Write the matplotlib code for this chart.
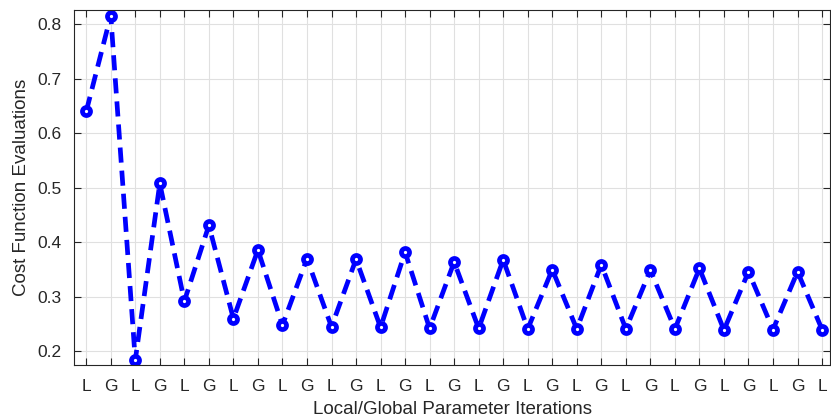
import matplotlib
matplotlib.use("Agg")
import matplotlib.pyplot as plt
import numpy as np

# cost function value per iteration, alternating Local / Global steps
cost = [0.640, 0.816, 0.184, 0.508, 0.292, 0.431, 0.260, 0.386, 0.248, 0.370,
        0.245, 0.369, 0.244, 0.382, 0.242, 0.364, 0.242, 0.368, 0.241, 0.350,
        0.241, 0.359, 0.241, 0.349, 0.241, 0.352, 0.239, 0.346, 0.240, 0.346,
        0.240]
step_labels = ["L" if i % 2 == 0 else "G" for i in range(len(cost))]
iters = np.arange(1, len(cost) + 1)

plt.rcParams["font.family"] = ["Liberation Sans", "DejaVu Sans"]
txt = "#262626"

fig = plt.figure(figsize=(8.31, 4.2), dpi=100)
ax = fig.add_axes([0.089, 0.131, 0.910, 0.845])

ax.plot(iters, cost, "--o", color="blue", linewidth=3.4, dashes=(3.2, 1.7),
        markersize=5.8, markeredgewidth=3.4, markerfacecolor="white",
        markeredgecolor="blue")

ax.set_xlim(0.5, 31.33)
ax.set_ylim(0.175, 0.826)
ax.set_xticks(iters)
ax.set_xticklabels(step_labels)
ax.set_yticks([0.2, 0.3, 0.4, 0.5, 0.6, 0.7, 0.8])

ax.grid(True, color="#e0e0e0", linewidth=0.8)
ax.set_axisbelow(True)
ax.tick_params(direction="in", top=True, right=True, length=5, width=0.8,
               labelsize=12.5, colors=txt)
ax.tick_params(axis="x", pad=10)
ax.tick_params(axis="y", pad=9)
for s in ax.spines.values():
    s.set_color(txt)
    s.set_linewidth(0.8)

ax.set_xlabel("Local/Global Parameter Iterations", fontsize=13.5, color=txt, labelpad=5)
ax.set_ylabel("Cost Function Evaluations", fontsize=13.5, color=txt, labelpad=5)

fig.savefig("out.png", dpi=100)
